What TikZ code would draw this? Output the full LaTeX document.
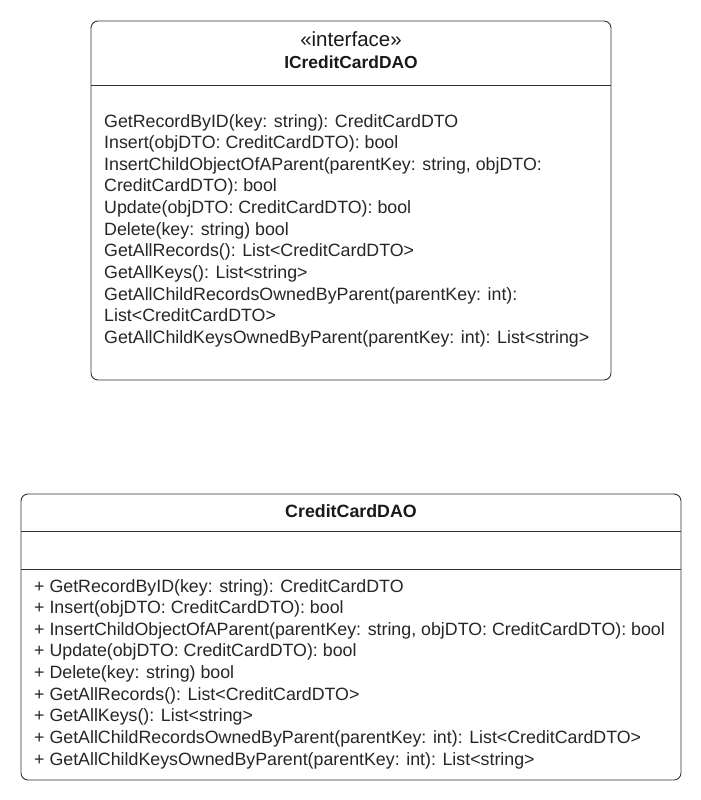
\documentclass[tikz,border=0pt]{standalone}
\usepackage{fontspec}
\setmainfont{Liberation Sans}
\begin{document}
\begin{tikzpicture}[x=1pt,y=-1pt,
  ink/.style={draw=black!80, line width=0.9pt},
  classbox/.style={ink, rounded corners=7pt, inner sep=0pt, fill=white},
  member/.style={anchor=base west, inner sep=0pt, text=black!85, font=\fontsize{17.8}{20}\selectfont},
  titletext/.style={anchor=base, inner sep=0pt, text=black!90},
]
\useasboundingbox (0,0) rectangle (701,800);

% interface box
\node[classbox, minimum width=520pt, minimum height=359pt] (iface) at (351,200.5) {};
\draw[ink] (iface.west |- 0,85) -- (iface.east |- 0,85);
\node[titletext, font=\fontsize{20.5}{22}\selectfont] (stereo) at (351,47) {«interface»};
\node[titletext, font=\bfseries\fontsize{17.4}{20}\selectfont] (iname) at (351,69) {ICreditCardDAO};

\foreach \t [count=\i from 0] in {
  {GetRecordByID(key: string): CreditCardDTO},
  {Insert(objDTO: CreditCardDTO): bool},
  {InsertChildObjectOfAParent(parentKey: string, objDTO:},
  {CreditCardDTO): bool},
  {Update(objDTO: CreditCardDTO): bool},
  {Delete(key: string) bool},
  {GetAllRecords(): List<CreditCardDTO>},
  {GetAllKeys(): List<string>},
  {GetAllChildRecordsOwnedByParent(parentKey: int):},
  {List<CreditCardDTO>},
  {GetAllChildKeysOwnedByParent(parentKey: int): List<string>}}
  \node[member] (im\i) at (104,{127+\i*21.65}) {\t};

% implementing class box
\node[classbox, minimum width=660pt, minimum height=286pt] (cls) at (351,637) {};
\draw[ink] (cls.west |- 0,531) -- (cls.east |- 0,531);
\draw[ink] (cls.west |- 0,569) -- (cls.east |- 0,569);
\node[titletext, font=\bfseries\fontsize{17.8}{20}\selectfont] (cname) at (351,517) {CreditCardDAO};

\foreach \t [count=\i from 0] in {
  {+ GetRecordByID(key: string): CreditCardDTO},
  {+ Insert(objDTO: CreditCardDTO): bool},
  {+ InsertChildObjectOfAParent(parentKey: string, objDTO: CreditCardDTO): bool},
  {+ Update(objDTO: CreditCardDTO): bool},
  {+ Delete(key: string) bool},
  {+ GetAllRecords(): List<CreditCardDTO>},
  {+ GetAllKeys(): List<string>},
  {+ GetAllChildRecordsOwnedByParent(parentKey: int): List<CreditCardDTO>},
  {+ GetAllChildKeysOwnedByParent(parentKey: int): List<string>}}
  \node[member] (cm\i) at (34,{592+\i*21.65}) {\t};
\end{tikzpicture}
\end{document}
